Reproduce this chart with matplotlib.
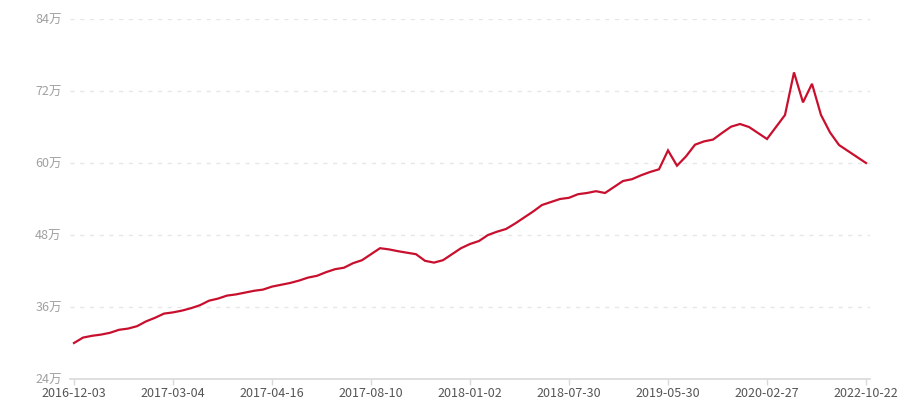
import numpy as np
import matplotlib
matplotlib.use("Agg")
import matplotlib.pyplot as plt

plt.rcParams['font.family'] = ['Noto Sans CJK SC', 'DejaVu Sans']

# values in 万, one point per category step
values = [
    30.0, 30.9, 31.2, 31.4, 31.7, 32.2, 32.4, 32.8, 33.6, 34.2,
    34.9, 35.1, 35.4, 35.8, 36.3, 37.05, 37.4, 37.9, 38.1, 38.4,
    38.7, 38.9, 39.4, 39.7, 40.0, 40.4, 40.9, 41.2, 41.8, 42.3,
    42.55, 43.3, 43.8, 44.8, 45.8, 45.6, 45.3, 45.05, 44.8, 43.7,
    43.4, 43.8, 44.8, 45.8, 46.5, 47.0, 48.0, 48.55, 49.0, 49.9,
    50.9, 51.9, 53.0, 53.5, 54.0, 54.2, 54.8, 55.0, 55.3, 55.0,
    56.0, 57.0, 57.3, 57.95, 58.5, 58.95, 62.1, 59.55, 61.1, 63.05,
    63.6, 63.9, 65.0, 66.05, 66.5, 66.0, 65.0, 64.0, 66.0, 68.0,
    75.1, 70.1, 73.2, 68.0, 65.1, 63.0, 62.0, 61.0, 60.0,
]
tick_labels = ['2016-12-03', '2017-03-04', '2017-04-16', '2017-08-10', '2018-01-02',
               '2018-07-30', '2019-05-30', '2020-02-27', '2022-10-22']
tick_step = 11
y_ticks = [24, 36, 48, 60, 72, 84]

fig = plt.figure(figsize=(9, 4), dpi=100)
ax = fig.add_axes([70 / 900, 1 - 379 / 400, 800 / 900, 360 / 400])

x = np.arange(len(values))
ax.plot(x, values, color='#c8102e', linewidth=1.6, solid_joinstyle='miter')

ax.set_xlim(-4 / 9, len(values) - 1 + 4 / 9)
ax.set_ylim(24, 84)

ax.set_yticks(y_ticks)
ax.set_yticklabels([f'{v}万' for v in y_ticks])
ax.set_xticks(x[::tick_step])
ax.set_xticklabels(tick_labels)

for v in y_ticks[1:]:
    ax.axhline(v, color='#e6e6e6', linewidth=1, linestyle=(0, (3, 4)), zorder=0)

for s in ['top', 'right', 'left']:
    ax.spines[s].set_visible(False)
ax.spines['bottom'].set_color('#d9d9d9')
ax.spines['bottom'].set_linewidth(1.2)

ax.tick_params(axis='y', length=0, pad=6, labelsize=9, labelcolor='#a0a0a0')
ax.tick_params(axis='x', length=4, width=1, color='#d9d9d9', pad=2,
               labelsize=9, labelcolor='#555555')

fig.savefig('out.png', dpi=100)
